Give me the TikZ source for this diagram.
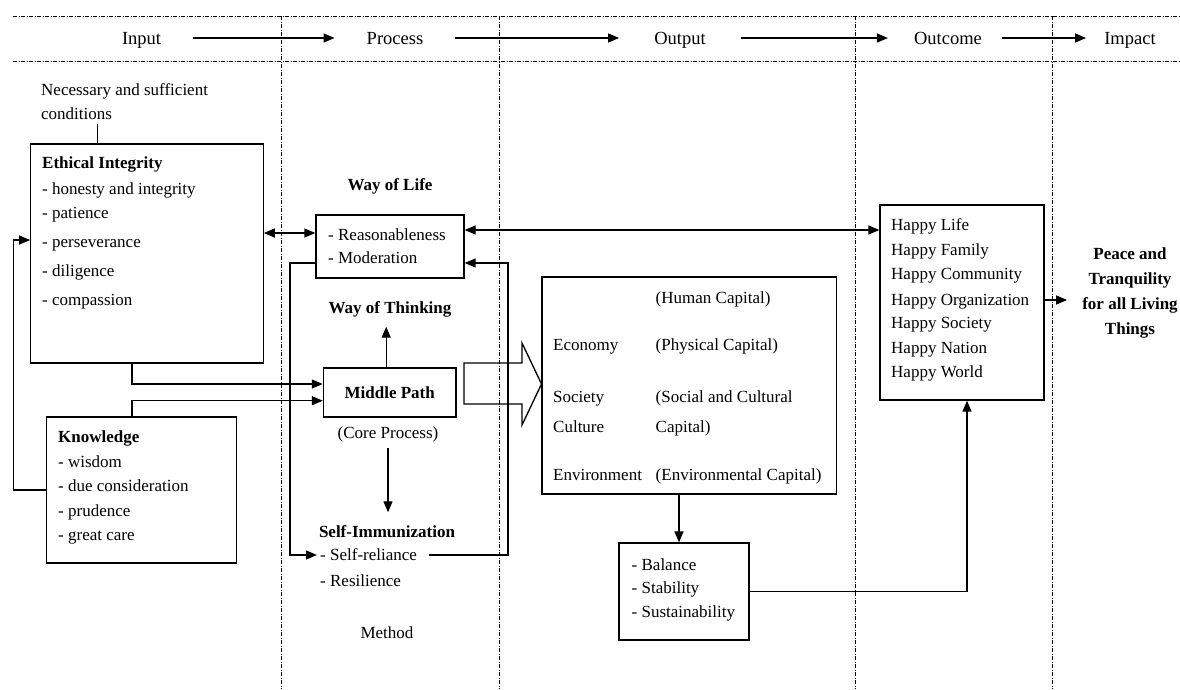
\documentclass[tikz,border=0pt]{standalone}
\usepackage{fontspec}
\setmainfont{Liberation Serif}
\usetikzlibrary{arrows.meta}
\begin{document}
\begin{tikzpicture}[x=1pt,y=-1pt,
  box/.style={draw, line width=1.3pt, inner sep=0pt},
  txt/.style={inner sep=0pt, anchor=west, text height=11pt, text depth=0pt, font=\fontsize{17}{20}\selectfont},
  ctxt/.style={txt, anchor=center},
  btxt/.style={txt, font=\fontsize{17}{20}\selectfont\bfseries},
  cbtxt/.style={btxt, anchor=center},
  hdr/.style={inner sep=0pt, text height=12pt, text depth=0pt, font=\fontsize{18.5}{22}\selectfont},
  sep/.style={line width=0.8pt, dash pattern=on 4pt off 1.5pt on 1pt off 1.5pt},
  conn/.style={line width=1.3pt, -{Triangle[length=11pt,width=9pt]}},
  bconn/.style={line width=1.3pt, {Triangle[length=11pt,width=9pt]}-{Triangle[length=11pt,width=9pt]}},
]
\fill[white] (0,0) rectangle (1180,689);
\path[use as bounding box] (0,0) rectangle (1180,689);

% separators
\draw[sep] (13,16) -- (1180,16);
\draw[sep] (13,61) -- (1180,61);
\foreach \xx in {281,499.5,855,1052} \draw[sep] (\xx,16) -- (\xx,689);

% header
\node[hdr] (hin)  at (141.6,38) {Input};
\node[hdr] (hpr)  at (395,38)   {Process};
\node[hdr] (hout) at (680,38)   {Output};
\node[hdr] (hoc)  at (948,38)   {Outcome};
\node[hdr] (him)  at (1130,38)  {Impact};
\draw[conn, shorten <=32pt, shorten >=32pt] (hin.east) -- (hpr.west);
\draw[conn, shorten <=32pt, shorten >=35pt] (hpr.east) -- (hout.west);
\draw[conn, shorten <=35pt, shorten >=26pt] (hout.east) -- (hoc.west);
\draw[conn, shorten <=20pt, shorten >=18pt] (hoc.east) -- (him.west);

% boxes
\node[box, minimum width=232.4pt, minimum height=219pt] (ethical) at (147,253.5) {};
\node[box, minimum width=189.8pt, minimum height=146pt] (know) at (141.6,490) {};
\node[box, minimum width=148pt, minimum height=63pt] (wol) at (390,246.5) {};
\node[box, minimum width=132.6pt, minimum height=49pt, font=\fontsize{17}{20}\selectfont\bfseries] (mid) at (389.7,392.5) {Middle Path};
\node[box, minimum width=294.5pt, minimum height=217pt] (outbox) at (689.25,385.5) {};
\node[box, minimum width=130pt, minimum height=97pt] (bal) at (684,591.5) {};
\node[box, minimum width=164pt, minimum height=195pt] (happy) at (962,302.5) {};

% conditions
\node[txt] (nec1) at (41,90) {Necessary and sufficient};
\node[txt] (nec2) at (41,114) {conditions};
\draw[line width=1.3pt, shorten >=4.5pt] ([xshift=-49.4pt]ethical.north) -- ([xshift=-49.4pt]ethical.north |- nec2.south);

% ethical integrity
\node[btxt] (e0) at (42,163) {Ethical Integrity};
\node[txt] (e1) at (42,189) {- honesty and integrity};
\node[txt] (e2) at (42,213) {- patience};
\node[txt] (e3) at (42,242) {- perseverance};
\node[txt] (e4) at (42,271) {- diligence};
\node[txt] (e5) at (42,300) {- compassion};

% knowledge
\node[btxt] (k0) at (58,437) {Knowledge};
\node[txt] (k1) at (58,462) {- wisdom};
\node[txt] (k2) at (58,486) {- due consideration};
\node[txt] (k3) at (58,511) {- prudence};
\node[txt] (k4) at (58,535) {- great care};

% process column
\node[cbtxt] (wolt) at (390,185) {Way of Life};
\node[txt] (w1) at (328,235) {- Reasonableness};
\node[txt] (w2) at (328,258) {- Moderation};
\node[cbtxt] (wot) at (390,308) {Way of Thinking};
\node[ctxt] (core) at (388,433) {(Core Process)};
\node[cbtxt] (simm) at (387,532) {Self-Immunization};
\node[txt] (sr) at (320,555) {- Self-reliance};
\node[txt] (res) at (320,581) {- Resilience};
\node[ctxt] (method) at (387,633) {Method};

% output box text
\node[txt] (o1) at (655.5,298) {(Human Capital)};
\node[txt] (o2) at (553,345) {Economy};
\node[txt] (o3) at (655.5,345) {(Physical Capital)};
\node[txt] (o4) at (553,397) {Society};
\node[txt] (o5) at (655.5,397) {(Social and Cultural};
\node[txt] (o6) at (553,427) {Culture};
\node[txt] (o7) at (655.5,427) {Capital)};
\node[txt] (o8) at (553,475) {Environment};
\node[txt] (o9) at (655.5,475) {(Environmental Capital)};

% balance
\node[txt] (b1) at (631.5,565) {- Balance};
\node[txt] (b2) at (631.5,588) {- Stability};
\node[txt] (b3) at (631.5,612) {- Sustainability};

% happy
\node[txt] (h1) at (891,225) {Happy Life};
\node[txt] (h2) at (891,250) {Happy Family};
\node[txt] (h3) at (891,274) {Happy Community};
\node[txt] (h4) at (891,300) {Happy Organization};
\node[txt] (h5) at (891,323) {Happy Society};
\node[txt] (h6) at (891,348) {Happy Nation};
\node[txt] (h7) at (891,372) {Happy World};

% impact
\node[inner sep=0pt, align=center, font=\fontsize{17}{24.7}\selectfont\bfseries] (peace) at (1130,293)
  {Peace and\\Tranquility\\for all Living\\Things};

% loop coordinates
\coordinate (kloop) at (13.4,0);
\coordinate (lloop) at (290,0);
\coordinate (rloop) at (508,0);

% connectors
\draw[conn] (know.west) -- (kloop |- know.west) |- ([yshift=13.5pt]ethical.west);
\draw[bconn] ([yshift=20.5pt]ethical.east) -- ([yshift=13.5pt]wol.west);
\draw[conn] ([xshift=-15pt]ethical.south) |- ([yshift=8.5pt]mid.west);
\draw[conn] ([xshift=-9.6pt]know.north) |- ([yshift=-8.2pt]mid.west);
\draw[conn, shorten >=13pt] ([xshift=-3.5pt]mid.north) -- ([xshift=-3.5pt]mid.north |- wot.south);
\draw[conn, shorten <=9.5pt, shorten >=14pt] (core.south) -- (core.south |- simm.north);
\draw[conn] ([yshift=-16.5pt]wol.west) -| (lloop |- sr.west) -- ([xshift=-3pt]sr.west);
\draw[conn] ([xshift=12pt]sr.east) -- (rloop |- sr.east) |- ([yshift=-16.5pt]wol.east);
\draw[bconn] ([yshift=16.5pt]wol.east) -- ([yshift=72.5pt]happy.west);
\draw[conn] ([xshift=-10.25pt]outbox.south) -- ([xshift=-5pt]bal.north);
\draw[conn] (bal.east) -| ([xshift=5pt]happy.south);
\draw[conn, shorten >=15pt] ([yshift=2.5pt]happy.east) -- ([yshift=-7pt]peace.west);

% big hollow arrow
\draw[line width=1.3pt, line join=miter] (464,363) -- (522,363) -- (522,343) -- (541.5,384) -- (522,425) -- (522,404) -- (464,404) -- cycle;
\end{tikzpicture}
\end{document}
